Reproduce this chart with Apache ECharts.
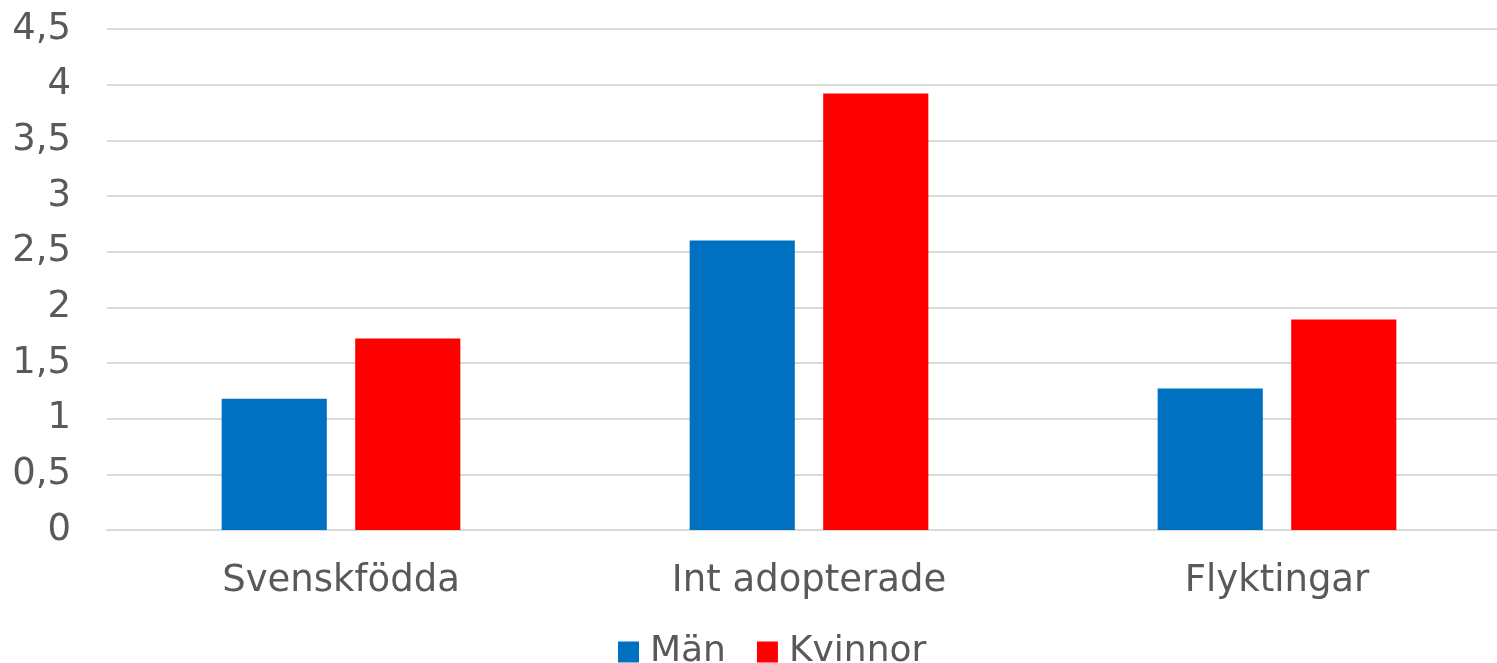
<!DOCTYPE html>
<html><head><meta charset="utf-8">
<script src="https://cdn.jsdelivr.net/npm/echarts@6/dist/echarts.min.js"></script>
<style>html,body{margin:0;padding:0;background:#fff;overflow:hidden}#c{width:1511px;height:663px}</style>
</head><body><div id="c"></div>
<script>
const categories = ['Svenskfödda', 'Int adopterade', 'Flyktingar'];
const man = [1.18, 2.6, 1.27];
const kvinnor = [1.72, 3.92, 1.89];
const seriesNames = ['Män', 'Kvinnor'];

const font = 'DejaVu Sans, Verdana, sans-serif';
const chart = echarts.init(document.getElementById('c'), null, {renderer: 'canvas'});
chart.setOption({
  animation: false,
  grid: {left: 107, right: 0, top: 29, bottom: 133},
  legend: {
    data: seriesNames, bottom: -12, left: 613,
    itemWidth: 21, itemHeight: 21, itemGap: 31,
    icon: 'rect',
    textStyle: {fontFamily: font, fontSize: 36, color: '#595959', padding: [0,0,0,6]}
  },
  xAxis: {
    type: 'category', data: categories,
    axisLine: {lineStyle: {color: '#d9d9d9', width: 2}},
    axisTick: {show: false},
    axisLabel: {fontFamily: font, fontSize: 37, color: '#595959', margin: 33}
  },
  yAxis: {
    type: 'value', min: 0, max: 4.5, interval: 0.5,
    axisLine: {show: false}, axisTick: {show: false},
    splitLine: {lineStyle: {color: '#d9d9d9', width: 2}},
    axisLabel: {fontFamily: font, fontSize: 37, color: '#595959', margin: 36,
      formatter: v => String(v).replace('.', ',')}
  },
  series: [
    {name: seriesNames[0], type: 'bar', data: man, itemStyle: {color: '#0070C0'},
     barGap: '27%', barCategoryGap: '49%'},
    {name: seriesNames[1], type: 'bar', data: kvinnor, itemStyle: {color: '#FF0000'}}
  ]
});
</script></body></html>
